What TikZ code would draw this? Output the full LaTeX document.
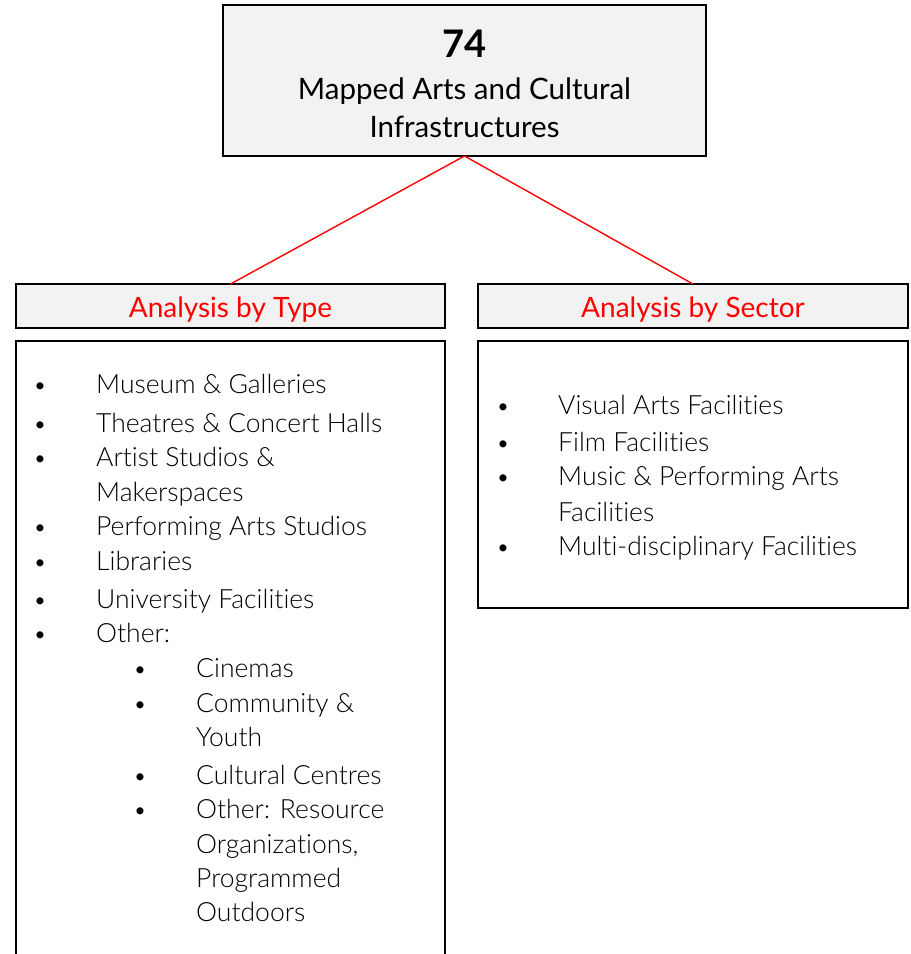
\documentclass[tikz,border=0pt]{standalone}
\usepackage{fontspec}
\setmainfont{Lato Light}[BoldFont={Lato Bold}, Ligatures=NoCommon]
\newfontfamily\regfont{Lato}[BoldFont={Lato Bold}, Ligatures=NoCommon]
\definecolor{boxfill}{HTML}{F2F2F2}
\begin{document}
\begin{tikzpicture}[x=1pt,y=-1pt,
 frame/.style={draw=black, line width=1.6pt, inner sep=0pt, outer sep=0pt},
 hdr/.style={frame, fill=boxfill, line width=1.4pt, minimum width=429pt, minimum height=44pt, text=red, font=\regfont\fontsize{28}{32}\selectfont},
 link/.style={draw=red, line width=1.4pt},
 item/.style={anchor=base west, inner sep=0pt, font=\fontsize{26.5}{30}\selectfont},
 dotm/.style={anchor=base, inner sep=0pt, font=\fontsize{24}{30}\selectfont},
 ttl/.style={anchor=base, inner sep=0pt, font=\regfont\fontsize{29.5}{34}\selectfont}]
\useasboundingbox (0,0) rectangle (911,954);
% boxes
\node[frame, fill=boxfill, minimum width=483pt, minimum height=151pt] (top) at (464.5,80.5) {};
\node[hdr] (hl) at (230.5,306) {\raisebox{-11pt}[0pt][0pt]{Analysis by Type}};
\node[hdr, minimum width=430pt] (hr) at (693,306) {\raisebox{-11pt}[0pt][0pt]{Analysis by Sector}};
\node[frame, minimum width=429pt, minimum height=660pt] (bl) at (230.5,671) {};
\node[frame, minimum width=430pt, minimum height=267pt] (br) at (693,474.5) {};
% connectors
\draw[link] (top.south) -- (hl.north);
\draw[link] (top.south) -- (hr.north);
% title text
\node[anchor=base, inner sep=0pt, font=\regfont\fontsize{38}{42}\selectfont\bfseries] (t1) at (464.5,57) {74};
\node[ttl] (t2) at (464.5,99) {Mapped Arts and Cultural};
\node[ttl] (t3) at (464.5,137) {Infrastructures};
% left list
\node[dotm] (b1) at (40,393) {•};
\node[item] (l1) at (96,393) {Museum \& Galleries};
\node[dotm] (b2) at (40,432) {•};
\node[item] (l2) at (96,432) {Theatres \& Concert Halls};
\node[dotm] (b3) at (40,466) {•};
\node[item] (l3) at (96,466) {Artist Studios \&};
\node[item] (l4) at (96,501) {Makerspaces};
\node[dotm] (b5) at (40,535) {•};
\node[item] (l5) at (96,535) {Performing Arts Studios};
\node[dotm] (b6) at (40,570) {•};
\node[item] (l6) at (96,570) {Libraries};
\node[dotm] (b7) at (40,608) {•};
\node[item] (l7) at (96,608) {University Facilities};
\node[dotm] (b8) at (40,642) {•};
\node[item] (l8) at (96,642) {Other:};
\node[dotm] (b9) at (140,677) {•};
\node[item] (l9) at (196,677) {Cinemas};
\node[dotm] (b10) at (140,712) {•};
\node[item] (l10) at (196,712) {Community \&};
\node[item] (l11) at (196,746) {Youth};
\node[dotm] (b12) at (140,784) {•};
\node[item] (l12) at (196,784) {Cultural Centres};
\node[dotm] (b13) at (140,818) {•};
\node[item] (l13) at (196,818) {Other: Resource};
\node[item] (l14) at (196,853) {Organizations,};
\node[item] (l15) at (196,887) {Programmed};
\node[item] (l16) at (196,921) {Outdoors};
% right list
\node[dotm] (rb1) at (503,414) {•};
\node[item] (r1) at (558,414) {Visual Arts Facilities};
\node[dotm] (rb2) at (503,451) {•};
\node[item] (r2) at (558,451) {Film Facilities};
\node[dotm] (rb3) at (503,485) {•};
\node[item] (r3) at (558,485) {Music \& Performing Arts};
\node[item] (r4) at (558,521) {Facilities};
\node[dotm] (rb5) at (503,555) {•};
\node[item] (r5) at (558,555) {Multi-disciplinary Facilities};
\end{tikzpicture}
\end{document}
